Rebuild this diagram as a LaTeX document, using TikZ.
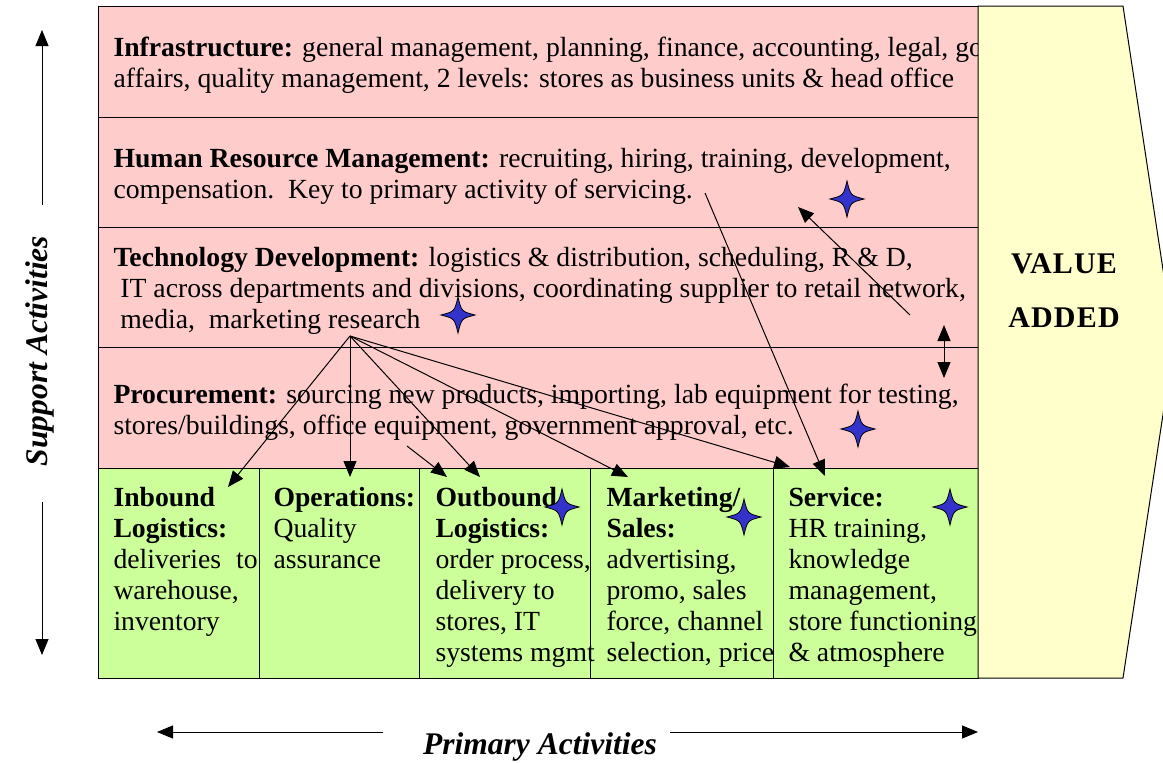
\documentclass[tikz,border=0pt]{standalone}
\usepackage{fontspec}
\setmainfont{Liberation Serif}
\usetikzlibrary{arrows.meta}
\definecolor{supportpink}{HTML}{FFCCCC}
\definecolor{primarygreen}{HTML}{CCFF99}
\definecolor{valueyellow}{HTML}{FFFFCC}
\definecolor{starblue}{HTML}{3333CC}
\tikzset{
  txt/.style={anchor=north west,inner sep=0pt,align=left,font=\fontsize{27.7}{31}\selectfont},
  axis/.style={font=\fontsize{31.5}{33}\selectfont\bfseries\itshape},
  big/.style={font=\fontsize{30}{31}\selectfont\bfseries\addfontfeature{LetterSpace=4}},
  link/.style={-{Triangle[length=16pt,width=13pt]},line width=1pt},
  sparkle/.pic={\draw[fill=starblue,line width=0.8pt] (0,-18) .. controls (3.5,-3.5) .. (17,0) .. controls (3.5,3.5) .. (0,18) .. controls (-3.5,3.5) .. (-17,0) .. controls (-3.5,-3.5) .. cycle;},
}
\begin{document}
\begin{tikzpicture}[x=1pt,y=-1pt,line width=1pt]
            \useasboundingbox (0,0) rectangle (1163,763);
            % support rows
            \draw[fill=supportpink] (98,6) rectangle (978,117);
            \draw[fill=supportpink] (98,117) rectangle (978,227);
            \draw[fill=supportpink] (98,227) rectangle (978,347);
            \draw[fill=supportpink] (98,347) rectangle (978,468);
            % primary columns
            \draw[fill=primarygreen] (98,468) rectangle (259,678);
            \draw[fill=primarygreen] (259,468) rectangle (419,678);
            \draw[fill=primarygreen] (419,468) rectangle (590,678);
            \draw[fill=primarygreen] (590,468) rectangle (773,678);
            \draw[fill=primarygreen] (773,468) rectangle (978,678);
            \draw (113,36.5) node[txt] (infra) {\textbf{Infrastructure:} general management, planning, finance, accounting, legal, go\\affairs, quality management, 2 levels: stores as business units \& head office};
            \draw (113,147.5) node[txt] (hrm) {\textbf{Human Resource Management:} recruiting, hiring, training, development,\\compensation.\ \ Key to primary activity of servicing.};
            \draw (113,246.5) node[txt] (tech) {\textbf{Technology Development:} logistics \& distribution, scheduling, R \& D,\\\ IT across departments and divisions, coordinating supplier to retail network,\\\ media,\ \ marketing research};
            \draw (113,383.5) node[txt] (proc) {\textbf{Procurement:} sourcing new products, importing, lab equipment for testing,\\stores/buildings, office equipment, government approval, etc.};
            \draw (113,486.5) node[txt] (inbound) {\textbf{Inbound}\\\textbf{Logistics:}\\deliveries\hspace{15pt}to\\warehouse,\\inventory};
            \draw (273,486.5) node[txt] (ops) {\textbf{Operations:}\\Quality\\assurance};
            \draw (435,486.5) node[txt] (outbound) {\textbf{Outbound}\\\textbf{Logistics:}\\order process,\\delivery to\\stores, IT\\systems mgmt};
            \draw (606,486.5) node[txt] (mkt) {\textbf{Marketing/}\\\textbf{Sales:}\\advertising,\\promo, sales\\force, channel\\selection, price};
            \draw (788,486.5) node[txt] (svc) {\textbf{Service:}\\HR training,\\knowledge\\management,\\store functioning\\\& atmosphere};
            % value added arrow
            \draw[fill=valueyellow] (978,6) -- (1123,6) -- (1174,342) -- (1123,678) -- (978,678) -- cycle;
            \draw (1064,264) node[big] (value) {VALUE};
            \draw (1064,318) node[big] (added) {ADDED};
            % stars
            \pic (s1) at (847,199) {sparkle};
            \pic (s2) at (458,315) {sparkle};
            \pic (s3) at (858,429) {sparkle};
            \pic (s4) at (562,507) {sparkle};
            \pic (s5) at (744,517) {sparkle};
            \pic (s6) at (950,507) {sparkle};
            % links
            \coordinate (hub) at (350,336);
            \coordinate (toinb) at (228,487);
            \coordinate (toops) at (350,477);
            \coordinate (toout) at (480,477);
            \coordinate (tomkt) at (628,477);
            \coordinate (tosvc) at (790,467);
            \coordinate (procend) at (407,446);
            \coordinate (procout) at (447,477);
            \coordinate (hrend) at (705,193);
            \coordinate (hrsvc) at (825,476);
            \coordinate (techend) at (910,315);
            \coordinate (techhr) at (798,207);
            \coordinate (upper) at (944,325);
            \coordinate (lower) at (944,378);
            \foreach \t in {toinb,toops,toout,tomkt,tosvc} \draw[link] (hub) -- (\t);
            \draw[link] (procend) -- (procout);
            \draw[link] (hrend) -- (hrsvc);
            \draw[link] (techend) -- (techhr);
            \draw[link,{Triangle[length=16pt,width=13pt]}-{Triangle[length=16pt,width=13pt]}] (upper) -- (lower);
            % axes
            \draw (40,351) node[rotate=90,axis] (support) {Support Activities};
            \coordinate (sup1) at (42,205);
            \coordinate (sup2) at (42,30);
            \coordinate (sup3) at (42,502);
            \coordinate (sup4) at (42,655);
            \draw[link] (sup1) -- (sup2);
            \draw[link] (sup3) -- (sup4);
            \draw (540,747) node[axis] (primary) {Primary Activities};
            \coordinate (pri1) at (383,732);
            \coordinate (pri2) at (157,732);
            \coordinate (pri3) at (670,732);
            \coordinate (pri4) at (978,732);
            \draw[link] (pri1) -- (pri2);
            \draw[link] (pri3) -- (pri4);
        \end{tikzpicture}
\end{document}
